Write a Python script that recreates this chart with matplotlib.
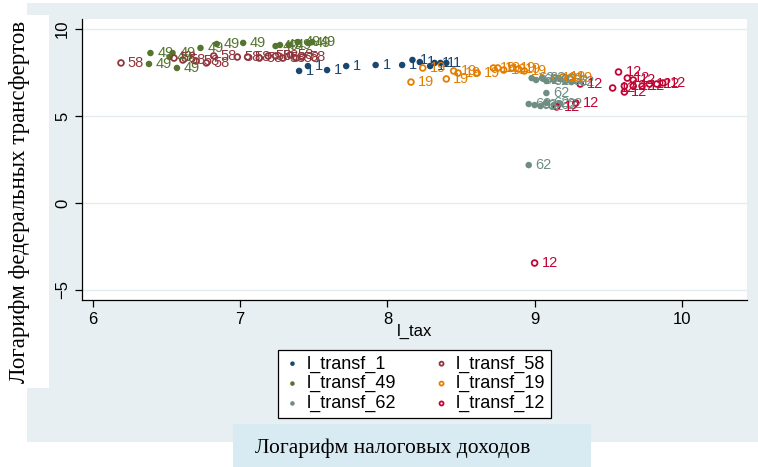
import matplotlib
matplotlib.use("Agg")
import matplotlib.pyplot as plt
from matplotlib.patches import Rectangle

plt.rcParams['font.family'] = ['Liberation Sans', 'DejaVu Sans']

# data
tax_1 = [7.40, 7.46, 7.59, 7.72, 7.92, 8.10, 8.17, 8.22, 8.29, 8.32, 8.36, 8.40]
tr_1 = [7.59, 7.87, 7.64, 7.87, 7.93, 7.93, 8.22, 8.10, 7.87, 8.05, 8.05, 8.05]

tax_49 = [6.39, 6.38, 6.52, 6.54, 6.57, 6.73, 6.84, 7.02, 7.24, 7.27, 7.33, 7.39, 7.46, 7.49]
tr_49 = [8.62, 7.99, 8.39, 8.62, 7.76, 8.91, 9.14, 9.20, 9.02, 9.08, 9.08, 9.25, 9.20, 9.25]

tax_62 = [8.98, 9.01, 9.05, 9.08, 9.13, 9.17, 9.21, 9.25, 9.08, 8.96, 9.00, 9.04, 9.08, 9.13, 9.17, 8.96]
tr_62 = [7.18, 7.07, 7.18, 7.01, 7.07, 7.13, 7.01, 6.95, 6.32, 5.69, 5.63, 5.57, 5.75, 5.63, 5.69, 2.18]

tax_58 = [6.19, 6.55, 6.61, 6.70, 6.77, 6.82, 6.98, 7.05, 7.13, 7.19, 7.24, 7.29, 7.34, 7.38, 7.42]
tr_58 = [8.05, 8.33, 8.22, 8.16, 8.05, 8.45, 8.39, 8.39, 8.33, 8.45, 8.45, 8.33, 8.51, 8.33, 8.39]

tax_19 = [8.16, 8.24, 8.40, 8.45, 8.48, 8.61, 8.72, 8.75, 8.79, 8.85, 8.89, 8.93, 9.14, 9.19, 9.24]
tr_19 = [6.95, 7.76, 7.13, 7.59, 7.47, 7.47, 7.76, 7.76, 7.64, 7.76, 7.70, 7.59, 7.18, 7.24, 7.18]

tax_12 = [9.31, 9.53, 9.57, 9.63, 9.67, 9.61, 9.67, 9.73, 9.78, 9.83, 9.87, 9.61, 9.15, 9.28, 9.00]
tr_12 = [6.84, 6.61, 7.53, 7.18, 7.07, 6.72, 6.72, 6.72, 6.84, 6.84, 6.90, 6.38, 5.52, 5.75, -3.45]

series = [
    ("l_transf_1", "1", tax_1, tr_1, "#1a476f", True),
    ("l_transf_49", "49", tax_49, tr_49, "#55752f", True),
    ("l_transf_62", "62", tax_62, tr_62, "#6e8e84", True),
    ("l_transf_58", "58", tax_58, tr_58, "#90353b", False),
    ("l_transf_19", "19", tax_19, tr_19, "#e37e00", False),
    ("l_transf_12", "12", tax_12, tr_12, "#c10534", False),
]

W, H = 758, 467
fig = plt.figure(figsize=(W / 100, H / 100), dpi=100)

def frect(x0, y0, x1, y1, color):
    # pixel box -> figure fraction rectangle, kept behind the axes
    fig.patches.append(Rectangle((x0 / W, 1 - y1 / H), (x1 - x0) / W, (y1 - y0) / H,
                                 transform=fig.transFigure, facecolor=color,
                                 edgecolor='none', zorder=-10))

frect(27, 3, 758, 442, "#e8eff2")
frect(0, 15, 49, 388, "white")
frect(233, 424, 591, 467, "#d9ebf2")

ax = fig.add_axes([82 / W, 1 - 300 / H, (747 - 82) / W, (300 - 19) / H])
ax.set_facecolor("white")
ax.set_xlim(5.925, 10.443)
ax.set_ylim(-5.575, 10.575)

ax.set_yticks([-5, 0, 5, 10])
ax.set_xticks([6, 7, 8, 9, 10])
ax.grid(axis='y', color="#e3ecef", linewidth=1.0)
ax.set_axisbelow(True)
for s in ['top', 'right']:
    ax.spines[s].set_visible(False)
for s in ['left', 'bottom']:
    ax.spines[s].set_linewidth(0.9)
ax.tick_params(axis='both', direction='out', length=5, width=0.9, labelsize=12)
ax.tick_params(axis='y', labelrotation=90)
for t in ax.get_yticklabels():
    t.set_va('center')

handles = []
for name, lab, xs, ys, col, filled in series:
    if filled:
        h = ax.scatter(xs, ys, s=22, color=col, edgecolors='none', label=name, zorder=3)
    else:
        h = ax.scatter(xs, ys, s=17, facecolors='none', edgecolors=col, linewidths=1.3,
                       label=name, zorder=3)
    handles.append(h)
    for x, y in zip(xs, ys):
        ax.annotate(lab, (x, y), xytext=(5, 0), textcoords='offset points',
                    va='center', ha='left', color=col, fontsize=10.5, zorder=4)

ax.set_xlabel("l_tax", fontsize=12, labelpad=-2)

leg = ax.legend(handles=handles, ncol=2, loc='upper left',
                bbox_to_anchor=(278 / W, 1 - 350 / H), bbox_transform=fig.transFigure,
                borderaxespad=0, fancybox=False, framealpha=1, edgecolor='black',
                fontsize=13, markerscale=0.7, handletextpad=0.3, columnspacing=2.0,
                labelspacing=0.15, borderpad=0.3, handlelength=1.0)
leg.get_frame().set_linewidth(0.9)

fig.text(20 / W, 1 - 202 / H, "Логарифм федеральных трансфертов", rotation=90,
         ha='center', va='center', fontsize=16.5, family=['Liberation Serif', 'DejaVu Serif'])
fig.text(393 / W, 1 - 448 / H, "Логарифм налоговых доходов",
         ha='center', va='center', fontsize=15.5, family=['Liberation Serif', 'DejaVu Serif'])

fig.savefig("out.png", dpi=100)
